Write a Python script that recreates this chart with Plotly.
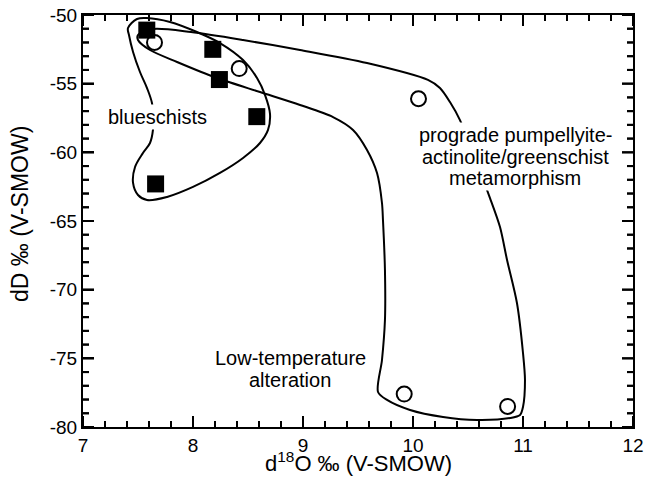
import plotly.graph_objects as go

# ---- data ----
square_x = [7.58, 8.18, 8.24, 8.58, 7.66]
square_y = [-51.1, -52.5, -54.7, -57.4, -62.3]

circle_x = [7.65, 8.42, 10.05, 9.92, 10.86]
circle_y = [-52.0, -53.9, -56.1, -77.6, -78.5]

# blueschist envelope (closed outline)
blue_env_x = [7.409, 7.491, 7.582, 7.791, 8.036, 8.245, 8.455, 8.582, 8.655, 8.700,
              8.682, 8.609, 8.455, 8.245, 8.000, 7.764, 7.582, 7.500, 7.455, 7.473,
              7.545, 7.609, 7.636, 7.636, 7.627, 7.582, 7.518, 7.455, 7.418, 7.409]
blue_env_y = [-50.95, -50.29, -50.22, -50.51, -51.24, -52.04, -53.28, -54.59, -55.83, -57.20,
              -58.37, -59.32, -60.41, -61.50, -62.52, -63.25, -63.47, -63.11, -62.23, -61.07,
              -60.05, -59.32, -58.37, -57.43, -56.41, -55.32, -54.15, -52.69, -51.46, -50.95]

# prograde / low-temperature envelope (closed outline)
big_env_x = [7.500, 7.636, 7.982, 8.455, 8.973, 9.582, 10.136, 10.245, 10.336, 10.427,
             10.700, 10.791, 10.855, 10.945, 11.000, 11.018, 11.000, 10.973, 10.882, 10.582,
             10.273, 9.973, 9.764, 9.682, 9.718, 9.745, 9.745, 9.727, 9.718, 9.673,
             9.582, 9.455, 9.273, 8.973, 8.609, 8.218, 7.855, 7.609, 7.500, 7.500]
big_env_y = [-51.46, -51.02, -51.24, -51.82, -52.55, -53.50, -54.73, -55.32, -56.34, -57.65,
             -63.33, -65.44, -67.84, -70.97, -74.61, -76.58, -78.54, -79.13, -79.35, -79.49,
             -79.27, -78.76, -78.03, -77.45, -75.12, -72.21, -68.57, -64.93, -63.69, -61.51,
             -59.83, -58.37, -57.43, -56.55, -55.61, -54.59, -53.42, -52.55, -51.82, -51.46]

x_range = [7, 12]
y_range = [-80, -50]
y_tick_vals = [-80, -75, -70, -65, -60, -55, -50]
y_tick_text = ["-80", "-75", "-70", "-65", "-60", "-55", "-50"]
y_minor_vals = [v for v in range(-80, -49) if v % 5 != 0]
x_tick_vals = [7, 8, 9, 10, 11, 12]
x_tick_text = ["7", "8", "9", "10", "11", "12"]
x_minor_vals = [round(7 + 0.2 * i, 1) for i in range(26) if i % 5 != 0]

labels = [
    ("blueschists", 7.673, -57.43),
    ("prograde pumpellyite-", 10.93, -58.74),
    ("actinolite/greenschist", 10.93, -60.32),
    ("metamorphism", 10.93, -61.90),
    ("Low-temperature", 8.886, -75.0),
    ("alteration", 8.886, -76.58),
]

x_title = "d<sup>18</sup>O ‰ (V-SMOW)"
y_title = "dD ‰ (V-SMOW)"

FONT = "Liberation Sans, Arial, Helvetica, sans-serif"
W, H = 645, 477
M_L, M_R, M_T, M_B = 83, 12, 15, 50
MAJOR_LEN, MINOR_LEN = 11, 6  # px

# pixels per data unit (for converting tick lengths)
ppu_x = (W - M_L - M_R) / (x_range[1] - x_range[0])
ppu_y = (H - M_T - M_B) / (y_range[1] - y_range[0])

fig = go.Figure()


def tick_segments():
    segs = []
    # vertical ticks on bottom / top edges
    for vals, ln in ((x_tick_vals, MAJOR_LEN), (x_minor_vals, MINOR_LEN)):
        d = ln / ppu_y
        for v in vals:
            segs.append((v, y_range[0], v, y_range[0] + d))
            segs.append((v, y_range[1], v, y_range[1] - d))
    # horizontal ticks on left / right edges
    for vals, ln in ((y_tick_vals, MAJOR_LEN), (y_minor_vals, MINOR_LEN)):
        d = ln / ppu_x
        for v in vals:
            segs.append((x_range[0], v, x_range[0] + d, v))
            segs.append((x_range[1], v, x_range[1] - d, v))
    return segs


segs = tick_segments()
tx, ty = [], []
for x0, y0, x1, y1 in segs:
    tx += [x0, x1, None]
    ty += [y0, y1, None]
    fig.add_shape(type="line", xref="x", yref="y", x0=x0, y0=y0, x1=x1, y1=y1,
                  line=dict(color="black", width=2), layer="above")
fig.add_trace(go.Scatter(x=tx, y=ty, mode="lines", line=dict(color="black", width=2),
                         connectgaps=False, hoverinfo="skip", showlegend=False))

fig.add_trace(go.Scatter(x=blue_env_x, y=blue_env_y, mode="lines",
                         line=dict(color="black", width=2, shape="spline", smoothing=1.0),
                         hoverinfo="skip", showlegend=False))
fig.add_trace(go.Scatter(x=big_env_x, y=big_env_y, mode="lines",
                         line=dict(color="black", width=2, shape="spline", smoothing=0.8),
                         hoverinfo="skip", showlegend=False))
fig.add_trace(go.Scatter(x=circle_x, y=circle_y, mode="markers",
                         marker=dict(symbol="circle", size=15, color="white",
                                     line=dict(color="black", width=2)),
                         showlegend=False))
fig.add_trace(go.Scatter(x=square_x, y=square_y, mode="markers",
                         marker=dict(symbol="square", size=17, color="black",
                                     line=dict(width=0)),
                         showlegend=False))

# white backgrounds first (so they interrupt the outlines), then the texts on top
for text, lx, ly in labels:
    fig.add_annotation(x=lx, y=ly, text=text, showarrow=False,
                       font=dict(family=FONT, size=20, color="white"),
                       bgcolor="white", borderpad=1, xanchor="center", yanchor="middle")
for text, lx, ly in labels:
    fig.add_annotation(x=lx, y=ly, text=text, showarrow=False,
                       font=dict(family=FONT, size=20, color="black"),
                       xanchor="center", yanchor="middle")

# axis titles
fig.add_annotation(xref="paper", yref="paper", x=0.5, y=0, yshift=-M_B,
                   text=x_title, showarrow=False, xanchor="center", yanchor="bottom",
                   borderpad=0, font=dict(family=FONT, size=22, color="black"))
fig.add_annotation(xref="paper", yref="paper", x=0, y=0.517, xshift=-63,
                   text=y_title, showarrow=False, textangle=-90,
                   xanchor="center", yanchor="middle",
                   font=dict(family=FONT, size=23, color="black"))

axis_common = dict(
    showgrid=False, zeroline=False, showline=True, linecolor="black", linewidth=2,
    mirror=True, ticks="inside", ticklen=MAJOR_LEN, tickwidth=2, tickcolor="black",
    tickmode="array", automargin=False,
    tickfont=dict(family=FONT, size=19, color="black"),
)

fig.update_xaxes(range=x_range, tickvals=x_tick_vals, ticktext=x_tick_text, **axis_common)
fig.update_yaxes(range=y_range, tickvals=y_tick_vals, ticktext=y_tick_text, **axis_common)

fig.update_layout(template="none",
                  width=W, height=H, margin=dict(l=M_L, r=M_R, t=M_T, b=M_B, autoexpand=False),
                  font=dict(family=FONT, color="black"),
                  plot_bgcolor="white", paper_bgcolor="white", showlegend=False)

fig.write_html("out.html")
